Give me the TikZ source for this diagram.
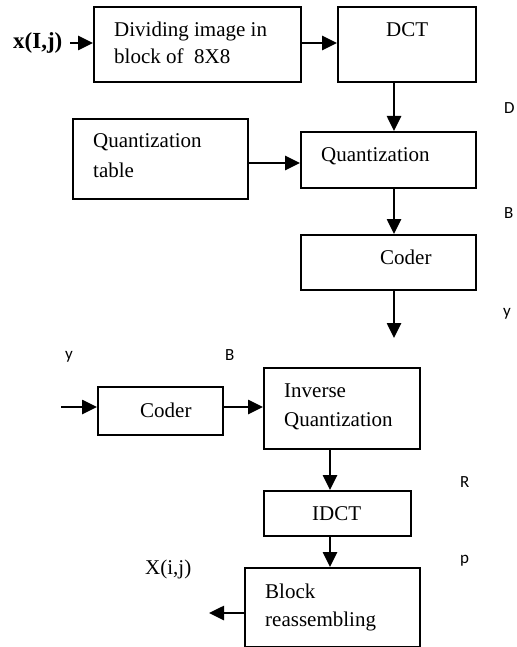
\documentclass[tikz,border=0pt]{standalone}
\usepackage{fontspec}
\setmainfont{Liberation Serif}
\newfontfamily\calfont{Carlito}
\usetikzlibrary{arrows.meta}
\begin{document}
\begin{tikzpicture}[x=1pt,y=-1pt,
  box/.style={draw,line width=2.2pt,rectangle,inner sep=0pt,anchor=north west},
  arr/.style={line width=2.6pt,-{Triangle[length=15pt,width=14pt]}},
  txt/.style={anchor=base west,inner sep=0pt,font=\fontsize{21}{25}\selectfont},
  side/.style={anchor=base west,inner sep=0pt,font=\calfont\fontsize{17}{20}\selectfont}]
\useasboundingbox (0,0) rectangle (516,647);

% blocks of the coder
\node[box,minimum width=207pt,minimum height=75pt] (div)   at (93,6)   {};
\node[box,minimum width=138pt,minimum height=75pt] (dct)   at (337,6)  {};
\node[box,minimum width=175pt,minimum height=80pt] (qtab)  at (72,118) {};
\node[box,minimum width=175pt,minimum height=56pt] (quant) at (300,131) {};
\node[box,minimum width=175pt,minimum height=55pt] (coder) at (300,234) {};

% blocks of the decoder
\node[box,minimum width=125pt,minimum height=48pt] (coder2) at (97,386)  {};
\node[box,minimum width=156pt,minimum height=81pt] (iq)     at (263,367) {};
\node[box,minimum width=147pt,minimum height=45pt] (idct)   at (263,490) {};
\node[box,minimum width=175pt,minimum height=79pt] (block)  at (244,567) {};

% texts in the blocks
\node[txt] (tdiv1) at (114,37) {Dividing image in};
\node[txt] (tdiv2) at (114,64) {block of~ 8X8};
\node[txt] (tdct)  at (386,37) {DCT};
\node[txt] (tqt1)  at (93,148) {Quantization};
\node[txt] (tqt2)  at (93,177) {table};
\node[txt] (tq)    at (321,162) {Quantization};
\node[txt] (tcod)  at (380,264) {Coder};
\node[txt] (tcod2) at (140,417) {Coder};
\node[txt] (tiq1)  at (284,397) {Inverse};
\node[txt] (tiq2)  at (284,426) {Quantization};
\node[txt] (tidct) at (312,520) {IDCT};
\node[txt] (tbl1)  at (265,598) {Block};
\node[txt] (tbl2)  at (265,626) {reassembling};

% input and output labels
\node[anchor=base west,inner sep=0pt,font=\bfseries\fontsize{23}{27}\selectfont] (xin) at (13,49) {x(I,j)};
\node[txt] (xout) at (145,574) {X(i,j)};

% side letters
\node[side] (sD)  at (504,114) {D};
\node[side] (sB)  at (504,218) {B};
\node[side] (sy)  at (503,316) {y};
\node[side] (sy2) at (65,359)  {y};
\node[side] (sB2) at (225,360) {B};
\node[side] (sR)  at (460,487) {R};
\node[side] (sp)  at (460,563) {p};

% connector guides
\coordinate (in1)  at (70,43);
\coordinate (colA) at (394,0);
\coordinate (rowQ) at (0,163);
\coordinate (out1) at (394,338);
\coordinate (in2)  at (61,407);
\coordinate (colB) at (330,0);
\coordinate (rowB) at (0,613);
\coordinate (out2) at (209,613);

% connectors
\draw[arr] (in1) -- (in1 -| div.west);
\draw[arr] (in1 -| div.east) -- (in1 -| dct.west);
\draw[arr] (colA |- dct.south) -- (colA |- quant.north);
\draw[arr] (qtab.east |- rowQ) -- (quant.west |- rowQ);
\draw[arr] (colA |- quant.south) -- (colA |- coder.north);
\draw[arr] (colA |- coder.south) -- (out1);
\draw[arr] (in2) -- (in2 -| coder2.west);
\draw[arr] (in2 -| coder2.east) -- (in2 -| iq.west);
\draw[arr] (colB |- iq.south) -- (colB |- idct.north);
\draw[arr] (colB |- idct.south) -- (colB |- block.north);
\draw[arr] (block.west |- rowB) -- (out2);
\end{tikzpicture}
\end{document}
